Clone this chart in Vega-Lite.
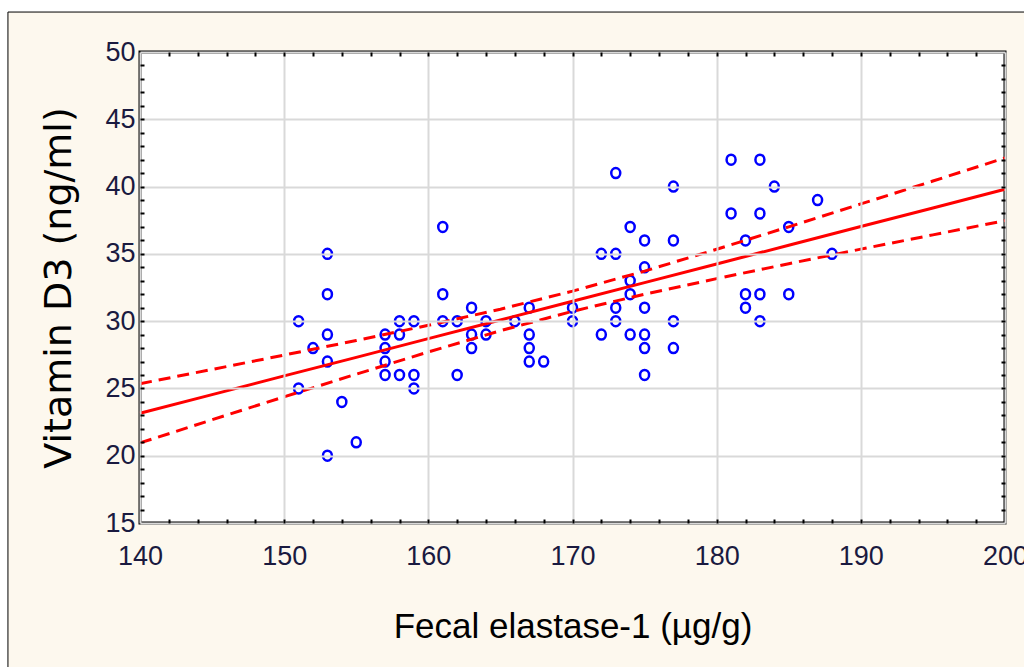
{
  "$schema": "https://vega.github.io/schema/vega-lite/v6.json",
  "width": 865,
  "height": 471,
  "autosize": "none",
  "padding": {"left": 140, "top": 52, "right": 19, "bottom": 144},
  "background": "#ffffff",
  "config": {
    "view": {"stroke": null},
    "font": "Liberation Sans",
    "axis": {"labelFont": "Liberation Sans", "titleFont": "Liberation Sans"}
  },
  "datasets": {
    "pts": [
      {"elastase": 151, "vitd": 30}, {"elastase": 151, "vitd": 25}, {"elastase": 152, "vitd": 28},
      {"elastase": 153, "vitd": 35}, {"elastase": 153, "vitd": 32}, {"elastase": 153, "vitd": 29},
      {"elastase": 153, "vitd": 27}, {"elastase": 153, "vitd": 20}, {"elastase": 154, "vitd": 24},
      {"elastase": 155, "vitd": 21}, {"elastase": 157, "vitd": 29}, {"elastase": 157, "vitd": 28},
      {"elastase": 157, "vitd": 27}, {"elastase": 157, "vitd": 26}, {"elastase": 158, "vitd": 30},
      {"elastase": 158, "vitd": 29}, {"elastase": 158, "vitd": 26}, {"elastase": 159, "vitd": 30},
      {"elastase": 159, "vitd": 26}, {"elastase": 159, "vitd": 25}, {"elastase": 161, "vitd": 37},
      {"elastase": 161, "vitd": 32}, {"elastase": 161, "vitd": 30}, {"elastase": 162, "vitd": 30},
      {"elastase": 162, "vitd": 26}, {"elastase": 163, "vitd": 31}, {"elastase": 163, "vitd": 29},
      {"elastase": 163, "vitd": 28}, {"elastase": 164, "vitd": 30}, {"elastase": 164, "vitd": 29},
      {"elastase": 166, "vitd": 30}, {"elastase": 167, "vitd": 31}, {"elastase": 167, "vitd": 29},
      {"elastase": 167, "vitd": 28}, {"elastase": 167, "vitd": 27}, {"elastase": 168, "vitd": 27},
      {"elastase": 170, "vitd": 31}, {"elastase": 170, "vitd": 30}, {"elastase": 172, "vitd": 35},
      {"elastase": 172, "vitd": 29}, {"elastase": 173, "vitd": 41}, {"elastase": 173, "vitd": 35},
      {"elastase": 173, "vitd": 31}, {"elastase": 173, "vitd": 30}, {"elastase": 174, "vitd": 37},
      {"elastase": 174, "vitd": 33}, {"elastase": 174, "vitd": 32}, {"elastase": 174, "vitd": 29},
      {"elastase": 175, "vitd": 36}, {"elastase": 175, "vitd": 34}, {"elastase": 175, "vitd": 31},
      {"elastase": 175, "vitd": 29}, {"elastase": 175, "vitd": 28}, {"elastase": 175, "vitd": 26},
      {"elastase": 177, "vitd": 40}, {"elastase": 177, "vitd": 36}, {"elastase": 177, "vitd": 30},
      {"elastase": 177, "vitd": 28}, {"elastase": 181, "vitd": 42}, {"elastase": 181, "vitd": 38},
      {"elastase": 182, "vitd": 36}, {"elastase": 182, "vitd": 32}, {"elastase": 182, "vitd": 31},
      {"elastase": 183, "vitd": 42}, {"elastase": 183, "vitd": 38}, {"elastase": 183, "vitd": 32},
      {"elastase": 183, "vitd": 30}, {"elastase": 184, "vitd": 40}, {"elastase": 185, "vitd": 37},
      {"elastase": 185, "vitd": 32}, {"elastase": 187, "vitd": 39}, {"elastase": 188, "vitd": 35}
    ],
    "fit": [
      {"elastase": 140, "fit": 23.15, "lo": 20.95, "hi": 25.35},
      {"elastase": 145, "fit": 24.54, "lo": 22.67, "hi": 26.41},
      {"elastase": 150, "fit": 25.93, "lo": 24.38, "hi": 27.48},
      {"elastase": 155, "fit": 27.31, "lo": 26.06, "hi": 28.56},
      {"elastase": 160, "fit": 28.70, "lo": 27.71, "hi": 29.69},
      {"elastase": 165, "fit": 30.09, "lo": 29.29, "hi": 30.89},
      {"elastase": 170, "fit": 31.48, "lo": 30.73, "hi": 32.23},
      {"elastase": 175, "fit": 32.86, "lo": 32.00, "hi": 33.72},
      {"elastase": 180, "fit": 34.25, "lo": 33.16, "hi": 35.34},
      {"elastase": 185, "fit": 35.64, "lo": 34.27, "hi": 37.01},
      {"elastase": 190, "fit": 37.03, "lo": 35.35, "hi": 38.71},
      {"elastase": 195, "fit": 38.41, "lo": 36.41, "hi": 40.41},
      {"elastase": 200, "fit": 39.80, "lo": 37.47, "hi": 42.13}
    ]
  },
  "resolve": {"axis": {"x": "independent", "y": "independent"}},
  "layer": [
    {
      "data": {"values": [{}]},
      "mark": {"type": "rect", "fill": "#fdf8ee", "stroke": "#000000", "strokeWidth": 1, "clip": false},
      "encoding": {
        "x": {"datum": 130.84, "type": "quantitative", "scale": {"domain": [140, 200], "nice": false, "zero": false}, "axis": null},
        "x2": {"datum": 215},
        "y": {"datum": 52.97, "type": "quantitative", "scale": {"domain": [15, 50], "nice": false, "zero": false}, "axis": null},
        "y2": {"datum": -5}
      }
    },
    {
      "data": {"values": [{}]},
      "mark": {"type": "rect", "fill": "#ffffff", "stroke": "#000000", "strokeWidth": 3, "clip": false},
      "encoding": {
        "x": {"datum": 140, "type": "quantitative", "scale": {"domain": [140, 200], "nice": false, "zero": false}, "axis": null},
        "x2": {"datum": 200},
        "y": {"datum": 15, "type": "quantitative", "scale": {"domain": [15, 50], "nice": false, "zero": false}, "axis": null},
        "y2": {"datum": 50}
      }
    },
    {
      "data": {"name": "pts"},
      "mark": {"type": "point", "shape": "M 0 -1 A 0.9 1 0 1 1 0 1 A 0.9 1 0 1 1 0 -1 Z", "filled": false, "stroke": "#0000ff", "strokeWidth": 2.5, "size": 100, "opacity": 1},
      "encoding": {
        "x": {
          "field": "elastase", "type": "quantitative",
          "scale": {"domain": [140, 200], "nice": false, "zero": false},
          "axis": {
            "orient": "bottom", "values": [140, 150, 160, 170, 180, 190, 200], "zindex": 1,
            "grid": true, "gridColor": "#d9d9d9", "gridWidth": 2,
            "ticks": false, "domain": false, "labelFlush": false, "labelOverlap": false,
            "labelFontSize": 27, "labelColor": "#1a1a40", "labelPadding": 20,
            "title": "Fecal elastase-1 (µg/g)",
            "titleFontSize": 35, "titleFontWeight": "normal",
            "titleColor": "#000000", "titlePadding": 40
          }
        },
        "y": {
          "field": "vitd", "type": "quantitative",
          "scale": {"domain": [15, 50], "nice": false, "zero": false},
          "axis": {
            "orient": "left", "values": [15, 20, 25, 30, 35, 40, 45, 50], "zindex": 1,
            "grid": true, "gridColor": "#d9d9d9", "gridWidth": 2,
            "ticks": false, "domain": false, "labelFlush": false, "labelOverlap": false,
            "labelFontSize": 27, "labelColor": "#1a1a40", "labelPadding": 5,
            "title": "Vitamin D3 (ng/ml)", "titleFont": "DejaVu Sans",
            "titleFontSize": 38, "titleFontWeight": "normal",
            "titleColor": "#000000", "titlePadding": 26
          }
        }
      }
    },
    {
      "data": {"name": "fit"},
      "mark": {"type": "line", "color": "#ff0000", "strokeWidth": 3},
      "encoding": {
        "x": {
          "field": "elastase", "type": "quantitative",
          "scale": {"domain": [140, 200], "nice": false, "zero": false},
          "axis": {
            "orient": "bottom", "values": [142, 144, 146, 148, 150, 152, 154, 156, 158, 160, 162, 164, 166, 168, 170, 172, 174, 176, 178, 180, 182, 184, 186, 188, 190, 192, 194, 196, 198], "zindex": 1,
            "grid": false, "domain": false, "labels": false, "title": null,
            "ticks": true, "tickSize": -4, "tickColor": "#000000", "tickWidth": 2
          }
        },
        "y": {
          "field": "fit", "type": "quantitative",
          "scale": {"domain": [15, 50], "nice": false, "zero": false},
          "axis": {
            "orient": "left", "values": [16, 17, 18, 19, 20, 21, 22, 23, 24, 25, 26, 27, 28, 29, 30, 31, 32, 33, 34, 35, 36, 37, 38, 39, 40, 41, 42, 43, 44, 45, 46, 47, 48, 49], "zindex": 1,
            "grid": false, "domain": false, "labels": false, "title": null,
            "ticks": true, "tickSize": -4, "tickColor": "#000000", "tickWidth": 2
          }
        }
      }
    },
    {
      "data": {"name": "fit"},
      "mark": {"type": "line", "color": "#ff0000", "strokeWidth": 3, "strokeDash": [12, 7]},
      "encoding": {
        "x": {
          "field": "elastase", "type": "quantitative",
          "scale": {"domain": [140, 200], "nice": false, "zero": false},
          "axis": {
            "orient": "top", "values": [142, 144, 146, 148, 150, 152, 154, 156, 158, 160, 162, 164, 166, 168, 170, 172, 174, 176, 178, 180, 182, 184, 186, 188, 190, 192, 194, 196, 198], "zindex": 1,
            "grid": false, "domain": false, "labels": false, "title": null,
            "ticks": true, "tickSize": -4, "tickColor": "#000000", "tickWidth": 2
          }
        },
        "y": {
          "field": "hi", "type": "quantitative",
          "scale": {"domain": [15, 50], "nice": false, "zero": false},
          "axis": {
            "orient": "right", "values": [16, 17, 18, 19, 20, 21, 22, 23, 24, 25, 26, 27, 28, 29, 30, 31, 32, 33, 34, 35, 36, 37, 38, 39, 40, 41, 42, 43, 44, 45, 46, 47, 48, 49], "zindex": 1,
            "grid": false, "domain": false, "labels": false, "title": null,
            "ticks": true, "tickSize": -4, "tickColor": "#000000", "tickWidth": 2
          }
        }
      }
    },
    {
      "data": {"name": "fit"},
      "mark": {"type": "line", "color": "#ff0000", "strokeWidth": 3, "strokeDash": [12, 7]},
      "encoding": {
        "x": {"field": "elastase", "type": "quantitative", "scale": {"domain": [140, 200], "nice": false, "zero": false}, "axis": null},
        "y": {"field": "lo", "type": "quantitative", "scale": {"domain": [15, 50], "nice": false, "zero": false}, "axis": null}
      }
    }
  ]
}
